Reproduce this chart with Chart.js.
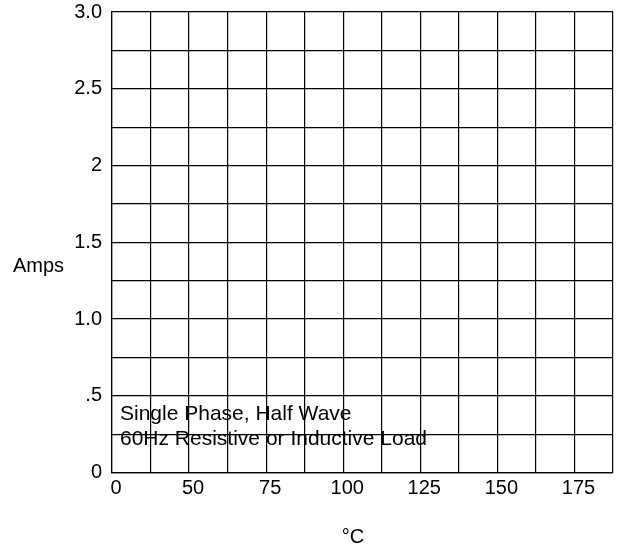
<!DOCTYPE html>
<html>
<head>
<meta charset="utf-8">
<script src="https://cdn.jsdelivr.net/npm/chart.js@4.4.0/dist/chart.umd.min.js"></script>
<style>
    body { margin: 0; background: #fff; }
    #wrap { width: 623px; height: 550px; }
</style>
</head>
<body>
<div id="wrap"><canvas id="chart" width="623" height="550"></canvas></div>
<script>
// grid is 13 columns x 12 rows, labels only on every other line
const xColumns = 13;
const xTickLabels = ['0', '50', '75', '100', '125', '150', '175'];
const yTickValues = [0, 0.5, 1, 1.5, 2, 2.5, 3];
const yTickLabels = ['0', '.5', '1.0', '1.5', '2', '2.5', '3.0'];
const yStep = 0.25;
const curveX = [];
const curveY = [];
const noteLines = ['Single Phase, Half Wave', '60Hz Resistive or Inductive Load'];

const font = 'Liberation Sans, Arial, sans-serif';

const textPlugin = {
    id: 'texts',
    afterDraw(chart) {
        const ctx = chart.ctx;
        const area = chart.chartArea;
        ctx.save();
        ctx.fillStyle = '#000';
        ctx.textBaseline = 'alphabetic';

        ctx.font = '20px ' + font;
        ctx.textAlign = 'left';
        ctx.fillText('Amps', 13, 272);

        ctx.textAlign = 'center';
        ctx.fillText('°C', 353, 543);

        ctx.font = '21px ' + font;
        ctx.textAlign = 'left';
        ctx.fillText(noteLines[0], area.left + 8, 420);
        ctx.fillText(noteLines[1], area.left + 8, 445);
        ctx.restore();
    }
};

new Chart(document.getElementById('chart'), {
    type: 'scatter',
    data: {
        datasets: [{
            data: curveX.map((x, i) => ({ x: x, y: curveY[i] })),
            borderColor: '#000',
            showLine: true,
            pointRadius: 0
        }]
    },
    options: {
        responsive: false,
        animation: false,
        layout: { padding: { top: 12, right: 10, left: 0, bottom: 0 } },
        plugins: {
            legend: { display: false },
            tooltip: { enabled: false }
        },
        scales: {
            x: {
                type: 'linear',
                min: 0,
                max: xColumns,
                afterFit(scale) {
                    scale.height = 77.5;
                    scale.paddingLeft = 0;
                    scale.paddingRight = 0;
                },
                afterBuildTicks(scale) {
                    const t = [];
                    for (let i = 0; i <= xColumns; i++) t.push({ value: i });
                    scale.ticks = t;
                },
                grid: { color: '#000', lineWidth: 1.2, drawTicks: false },
                border: { color: '#000', width: 1.2 },
                ticks: {
                    autoSkip: false,
                    maxRotation: 0,
                    padding: 4,
                    labelOffset: 4,
                    color: '#000',
                    font: { family: font, size: 20 },
                    callback: (v) => (v % 2 === 0 && xTickLabels[v / 2] !== undefined) ? xTickLabels[v / 2] : ''
                }
            },
            y: {
                min: 0,
                max: 3,
                afterFit(scale) {
                    scale.width = 112;
                    scale.paddingTop = 0;
                    scale.paddingBottom = 0;
                },
                afterBuildTicks(scale) {
                    const t = [];
                    for (let v = 0; v <= 3 + 1e-9; v += yStep) t.push({ value: Math.round(v * 100) / 100 });
                    scale.ticks = t;
                },
                grid: { color: '#000', lineWidth: 1.2, drawTicks: false },
                border: { color: '#000', width: 1.2 },
                ticks: {
                    autoSkip: false,
                    padding: 10,
                    color: '#000',
                    font: { family: font, size: 20 },
                    callback: (v) => {
                        const i = yTickValues.indexOf(v);
                        return i >= 0 ? yTickLabels[i] : '';
                    }
                }
            }
        }
    },
    plugins: [textPlugin]
});
</script>
</body>
</html>
